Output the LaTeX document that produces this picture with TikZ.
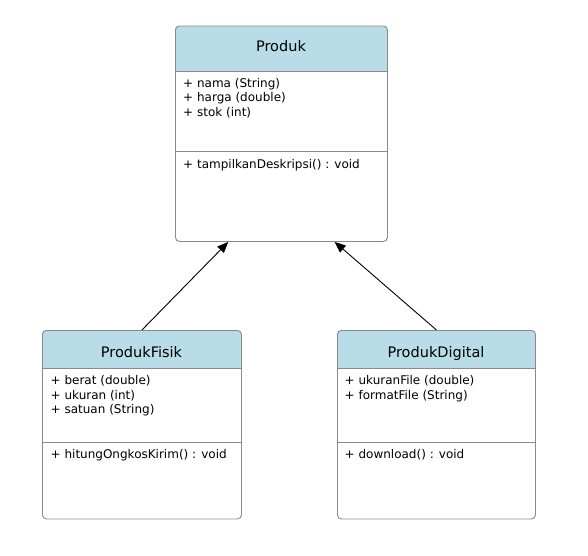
\documentclass[tikz,border=0pt]{standalone}
\usepackage{fontspec}
\setmainfont{DejaVu Sans}
\usetikzlibrary{arrows.meta,calc}

\definecolor{headblue}{HTML}{B8DDE8}
\definecolor{linegray}{HTML}{8A8A8A}

\tikzset{
  classbox/.style={draw=linegray, line width=0.9pt, rounded corners=4pt, anchor=north west, inner sep=0pt},
  classname/.style={anchor=base, inner sep=0pt, font=\fontsize{14.5}{17}\selectfont},
  members/.style={anchor=north west, align=left, inner sep=0pt, font=\fontsize{12}{14.5}\selectfont},
  divider/.style={draw=linegray, line width=0.9pt},
  inherits/.style={-{Triangle[length=11pt,width=9pt]}, line width=0.9pt}
}

\begin{document}
\begin{tikzpicture}[x=1pt,y=-1pt]
\useasboundingbox (0,0) rectangle (588,555);

% draw class Produk
\begin{scope}
  \clip[rounded corners=4pt] (175,25.5) rectangle (387,241);
  \fill[headblue] (175,25.5) rectangle (387,71);
\end{scope}
\node[classbox, minimum width=212pt, minimum height=215.5pt] (produk) at (175,25.5) {};
\draw[divider] (175,71) -- (387,71);
\draw[divider] (175,151) -- (387,151);
\node[classname] (produkname) at (281,51) {Produk};
\node[members] (produkattr) at (183,77) {\rule{0pt}{10pt}+ nama (String)\\+ harga (double)\\+ stok (int)};
\node[members] (produkops) at (183,158) {\rule{0pt}{10pt}+ tampilkanDeskripsi() : void};

% draw class ProdukFisik
\begin{scope}
  \clip[rounded corners=4pt] (42,330) rectangle (241,518.5);
  \fill[headblue] (42,330) rectangle (241,368.5);
\end{scope}
\node[classbox, minimum width=199pt, minimum height=188.5pt] (fisik) at (42,330) {};
\draw[divider] (42,368.5) -- (241,368.5);
\draw[divider] (42,442) -- (241,442);
\node[classname] (fisikname) at (141.5,357) {ProdukFisik};
\node[members] (fisikattr) at (50.5,374.5) {\rule{0pt}{10pt}+ berat (double)\\+ ukuran (int)\\+ satuan (String)};
\node[members] (fisikops) at (50.5,448.5) {\rule{0pt}{10pt}+ hitungOngkosKirim() : void};

% draw class ProdukDigital
\begin{scope}
  \clip[rounded corners=4pt] (337,330) rectangle (535,518.5);
  \fill[headblue] (337,330) rectangle (535,368.5);
\end{scope}
\node[classbox, minimum width=198pt, minimum height=188.5pt] (digital) at (337,330) {};
\draw[divider] (337,368.5) -- (535,368.5);
\draw[divider] (337,442) -- (535,442);
\node[classname] (digitalname) at (436,357) {ProdukDigital};
\node[members] (digitalattr) at (344.5,374.5) {\rule{0pt}{10pt}+ ukuranFile (double)\\+ formatFile (String)};
\node[members] (digitalops) at (344.5,448.5) {\rule{0pt}{10pt}+ download() : void};

% draw inheritance
\draw[inherits] (fisik.north) -- ($(produk.south)!0.5!(produk.south west)$);
\draw[inherits] (digital.north) -- ($(produk.south)!0.5!(produk.south east)$);

\end{tikzpicture}
\end{document}
